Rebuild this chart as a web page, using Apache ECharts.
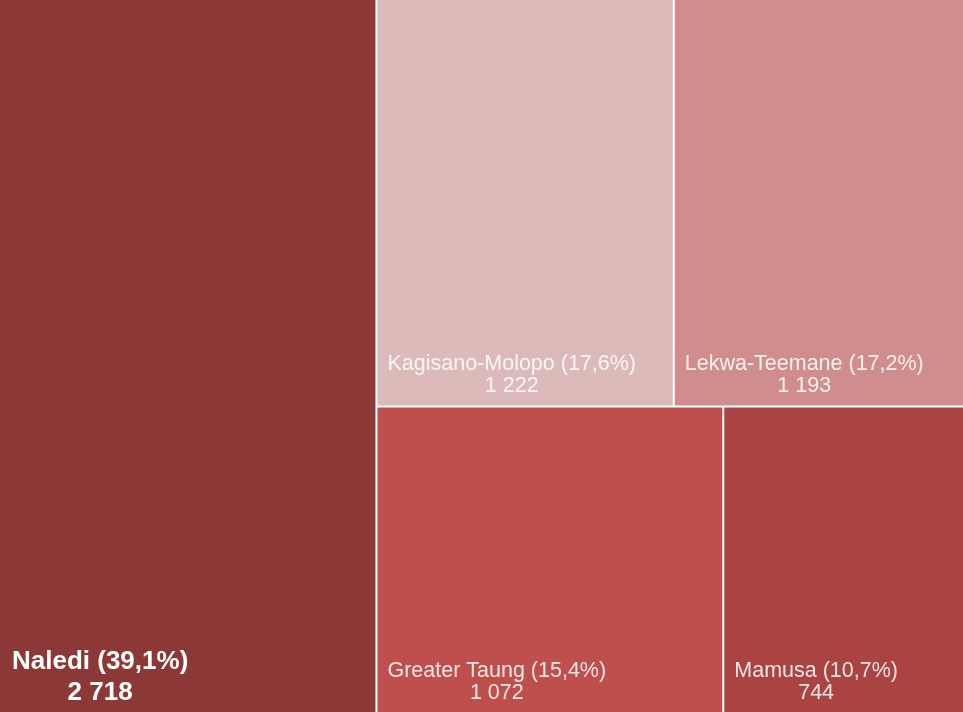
<!DOCTYPE html>
<html>
<head>
<meta charset="utf-8">
<script src="https://cdn.jsdelivr.net/npm/echarts@6/dist/echarts.min.js"></script>
<style>
  html, body { margin: 0; padding: 0; background: #fff; }
  #myChart { width: 963px; height: 712px; }
</style>
</head>
<body>
<div id="myChart"></div>
<script>
var names = ['Naledi', 'Kagisano-Molopo', 'Lekwa-Teemane', 'Greater Taung', 'Mamusa'];
var values = [2718, 1222, 1193, 1072, 744];
var colors = ['#8b3837', '#dcbaba', '#cf8d8e', '#bf4f4d', '#a94443'];

var FONT = 'Liberation Sans';
var total = values.reduce(function (a, b) { return a + b; }, 0);

function fmtNum(v) {
    return String(v).replace(/\B(?=(\d{3})+(?!\d))/g, ' ');
}
function pctText(v) {
    return (v / total * 100).toFixed(1).replace('.', ',');
}

var ctx = document.createElement('canvas').getContext('2d');
function textW(str, size, bold) {
    ctx.font = (bold ? 'bold ' : '') + size + 'px "' + FONT + '"';
    return ctx.measureText(str).width;
}

function buildData(heights) {
    var showData = [];
    for (var i = 0; i < names.length; i++) {
        var big = i === 0;
        var size = big ? 26 : 21.5;
        var lh = big ? 31 : 22;
        var gap = big ? 4 : 8;
        var color = big ? '#fff' : 'rgba(255,255,255,0.86)';
        var nameStr = names[i] + ' (' + pctText(values[i]) + '%)';
        var valStr = fmtNum(values[i]);
        var pad = Math.max((textW(nameStr, size, big) - textW(valStr, size, big)) / 2, 0);
        var h = heights ? heights[names[i]] : 100;
        var spacer = Math.max(h - 2 * lh - gap, 1);
        showData.push({
            name: names[i],
            value: values[i],
            itemStyle: { color: colors[i] },
            label: {
                padding: [0, 0, 0, big ? 12 : 10],
                rich: {
                    s: { fontSize: 1, lineHeight: spacer, align: 'left' },
                    n: { fontSize: size, fontWeight: big ? 'bold' : 'normal', color: color, lineHeight: lh, fontFamily: FONT, align: 'left' },
                    v: { fontSize: size, fontWeight: big ? 'bold' : 'normal', color: color, lineHeight: lh, fontFamily: FONT, align: 'left', padding: [0, 0, 0, pad] }
                }
            }
        });
    }
    return showData;
}

var myChart = echarts.init(document.getElementById('myChart'));

function makeOption(heights) {
    return {
        animation: false,
        series: [{
            type: 'treemap',
            left: 0, top: 0, right: 0, bottom: 0,
            roam: false,
            nodeClick: false,
            squareRatio: 1,
            breadcrumb: { show: false },
            itemStyle: { borderWidth: 0, gapWidth: 2, borderColor: '#fff' },
            levels: [{ itemStyle: { borderWidth: 0, gapWidth: 2, borderColor: '#fff' } }],
            label: {
                show: true,
                position: 'insideTopLeft',
                align: 'left',
                verticalAlign: 'top',
                formatter: function (p) {
                    return '{s| }\n{n|' + p.name + ' (' + pctText(p.value) + '%)}\n{v|' + fmtNum(p.value) + '}';
                }
            },
            data: buildData(heights)
        }]
    };
}

myChart.setOption(makeOption(null));

// 读取布局高度，把标签推到每块的底部
var heights = {};
var seriesData = myChart.getModel().getSeriesByIndex(0).getData();
seriesData.each(function (idx) {
    var layout = seriesData.getItemLayout(idx);
    if (layout) heights[seriesData.getName(idx)] = layout.height;
});
myChart.setOption(makeOption(heights));
</script>
</body>
</html>
